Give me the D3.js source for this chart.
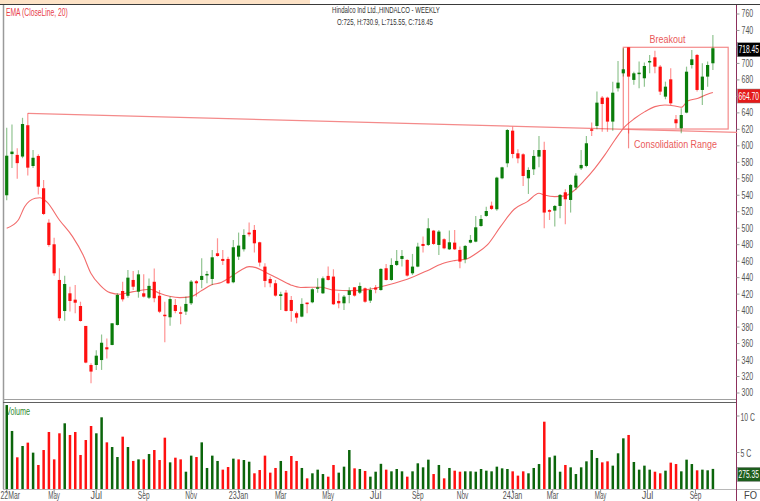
<!DOCTYPE html>
<html>
<head>
<meta charset="utf-8">
<script src="https://cdn.jsdelivr.net/npm/d3@7/dist/d3.min.js"></script>
<style>
body{margin:0;background:#fff;overflow:hidden;}
svg{display:block;font-family:"Liberation Sans",Arial,sans-serif;}
</style>
</head>
<body>
<svg id="plot"></svg>
<script>
const width = 760;
const height = 501;

// weekly candles
const opens = [540,590,589,587,625,575.5,587.7,548.5,506.7,480.5,437.2,399.5,421,413.3,405.6,381.4,334,334,340,355.5,
  358.3,382.6,423.8,418,437.2,423,421,415.7,435,418,395,391.9,406.8,398,398.8,408.9,435.6,437.2,442.9,438.4,
  469.6,462.7,462.7,434.4,465.5,474.4,494.7,497.9,482.9,453.4,438.4,433.2,417.8,421.8,412.9,396.8,392.7,409.7,410.1,427.1,
  421,442.1,441.3,411.7,408.9,419,428.3,421.8,427.1,412.1,428,425,451.4,437.2,455.4,462.7,461.5,445.3,453.4,480.9,
  479.7,497.1,479.7,486.6,474.4,482.5,473.6,462.3,482.5,483.7,502.7,514.9,527.4,523,560.6,578.8,618.4,590.9,589.7,560.6,
  571.5,586.9,595,522,521.4,527,543.6,534.3,549.3,572.7,575.6,620.1,624.1,658.5,658.5,629.4,669.8,688,719.6,680,
  687.2,682,702,707.4,696.1,659.7,680.7,632.2,621.3,640.3,698.1,710.3,667.8,684,700.2];
const highs = [622,626,597,634,639.5,595,589.7,558.5,510.8,488.5,451.4,442.4,429,431,410.8,381.4,336,352,371,366,
  384.6,421,435,449.3,448,449,444,439,451,425,410.8,417,414,404.9,417,437.2,437,463.5,448.1,473.6,
  487.8,473.6,465.5,485.8,494.7,498.7,506.8,504,483.7,457.4,441.3,437.2,423,425,417.8,398.8,415,409.7,427.1,439.2,
  441.3,453.4,450.2,421,419,428.3,428.3,434,428,428.5,431,451.5,456.6,463.5,473.6,473.6,462.3,468.8,482.5,489.8,
  512,497.9,497.9,487.8,497.1,497.9,477.7,479.7,491.8,514.9,516.1,526.2,532.3,562.6,574.7,620.4,623.3,595.8,590.9,573.9,
  595,612,605,523,528.2,541.6,547.3,553.7,566.7,595,612,628.2,665.8,660.5,659.7,677.9,703,718.4,719.6,690,
  702.2,701,710.3,715.5,698.1,677.9,694.1,637.4,645.5,696.1,716.3,711.5,700.2,702.2,734.5];
const lows = [534,573,560,585,564,573,541,516,477.6,442.4,387.4,387.8,399,396.7,386.6,336.1,311.8,328,328,342,
  358,382,411,415.7,425,415.7,416,414,410,397,361.5,381.7,396.7,383.4,394.7,406.9,417,427.1,433.2,431.2,
  465.5,455.4,432.4,433.2,461.5,471.6,489.8,470.4,453.4,428.3,428.3,417,400.8,398.8,386.6,384.6,391.9,396.8,408.9,421.8,
  420.2,436.4,406.9,402.8,400.8,408.9,417,420.2,409.6,409.3,421,424,436.4,436.4,454.2,453.4,441.3,443.3,452.6,470.4,
  478.5,479.7,467.5,474.4,473.6,473.6,451.4,457.4,481.7,482.9,501.9,514,522.2,521.3,559.4,573.9,584.8,578.8,551.3,541.6,
  564.6,573.9,499.9,510,502,512,504.8,519,546.4,570.7,574,612,620,617,617,618.4,665.8,684,615,674,
  669.8,671.8,688,688,661.7,656.5,649.6,621.3,615.2,639.5,694,665.8,649.6,671.8,692];
const closes = [588,593,579,626.5,573.5,585.5,550.4,517.3,479.6,445.3,390.7,432.3,411.7,409.6,387.4,336.9,326,345.3,361,353,
  384.6,419,413.7,440,429,444,417,430,415,398.7,394,414,399.5,396.8,408.1,435.2,433.2,442.1,444.5,464.7,
  466.3,460.3,433.2,476.9,478.9,491.8,492.6,481.7,458.3,436,433.2,418.2,419.8,399.6,399.6,391.5,408.1,408.5,425.9,428.3,
  439.2,437.2,407.7,408.9,417,424.3,418.2,429.9,410.8,425,425.5,450.6,437.2,455.4,460.3,466.3,442.5,453.4,477.7,478.5,
  499.9,480.9,495.9,475.6,482.9,474.4,459.5,478.5,485.8,501.1,511.2,520.9,523.4,561.4,573.9,619.2,590.1,584.8,563.4,570.7,
  587.7,594.9,519,520,527,540.4,535.1,552.5,563.8,576.8,603.1,618.4,652.4,650.8,629.4,664.5,676.7,692.9,684,688,
  688.8,696.9,703,696.1,665.8,671.8,651.6,627.4,637.4,690,705,667.8,684,698.1,718.45];

// weekly volume in crore shares
const volumes = [11.5,7.95,4.34,5.89,6.35,4.98,3.29,5.34,7.81,4.06,7.63,9.0,7.4,7.81,4.66,6.71,8.63,7.63,9.82,6.39,
  5.75,4.38,7.17,5.75,3.84,4.06,4.06,4.79,5.34,3.97,7.03,3.65,4.29,4.06,2.37,4.57,4.38,6.39,2.88,4.57,
  3.84,2.65,3.01,4.16,4.06,3.97,3.74,2.15,2.6,4.57,2.24,2.88,3.84,2.47,4.52,3.84,2.88,1.46,2.15,2.65,
  2.05,1.69,3.29,2.24,3.06,5.34,2.83,2.74,2.47,1.69,2.37,3.45,2.65,2.42,2.74,2.42,1.69,2.42,3.52,2.97,
  4.02,2.05,3.29,1.46,2.88,2.51,2.37,2.42,2.42,2.37,2.74,2.51,2.42,3.06,2.83,2.74,2.42,1.83,2.42,2.15,
  2.88,3.42,9.22,4.34,4.57,2.37,3.29,2.97,2.05,2.97,3.79,5.34,4.25,3.65,3.79,3.2,4.89,6.94,7.4,3.7,
  2.65,3.2,2.65,2.37,2.15,2.51,3.61,3.42,2.42,4.02,3.42,2.56,2.65,2.56,2.7535];
// u = up bar, d = down bar in the volume panel, ten weeks per chunk
const volDir = ['uudududddd','duddddduud','uududududd','dudduuduuu','udduduuddd',
  'dduddduduu','udduuududu','uuduuuduuu','udududduuu','uuuuuudddu',
  'uuduuuduuu','uuudduuudu','uuuddudduu','uduuu'].join('').split('');
// EMA(20) as drawn, sampled along the curve: [week index, value]
const emaPoints = [[0,500],[2.2,510],[3.4,526],[5.4,536.3],[6.3,537],[7.6,532],[10,510],[12.5,489.8],[14.5,467.5],[16,445],
  [17.7,431],[19.6,421.8],[21.5,419.8],[24,423],[27.2,425.9],[29,421],[32.8,415.7],[35,417],[37,424.3],[38.8,431.2],
  [40.7,434],[42.6,441.3],[44.5,449.4],[46,453.4],[47.3,452.2],[48.9,447.3],[51.4,439.2],[53.9,431.2],[55.8,428],[57.7,428.3],
  [59.6,428.3],[62.1,425],[65.3,424.3],[68.8,425.8],[72.3,431.1],[76,438],[79.8,448.5],[82.6,457],[85,460.7],[87.4,463],
  [89,469],[91.2,479.7],[93.7,501.9],[96.3,523],[98.8,532.3],[101,542.4],[102,540.4],[104,538.4],[105.9,539.2],[107.8,546.4],
  [109.7,558.6],[111.6,572.7],[113.5,589],[115.4,607.1],[117.3,623.3],[119.2,633.4],[121.1,641.5],[123,647.6],[124.9,649.6],[126.8,648.4],
  [128,646.8],[129.3,654.8],[131.2,657.7],[133.1,663],[134,664.7]];

const priceTicks = d3.range(300, 761, 20);
const volTicks = [5, 10];
const monthTicks = [[0,'22Mar'],[9,'May'],[17,'Jul'],[26,'Sep'],[35,'Nov'],[44,'23Jan'],[52,'Mar'],[61,'May'],
  [70,'Jul'],[78,'Sep'],[86.5,'Nov'],[96,'24Jan'],[103.6,'Mar'],[112.7,'May'],[121.6,'Jul'],[130.7,'Sep']];

const trendLine = [[4,639.5],[138.6,616.4]];
const breakoutBox = {left:117, right:136.9, top:719.6, bottom:620.4};
const pointerLine = [[118,620.4],[118,597]];
const lastEma = 664.70;

const colUp = '#0a7d0a', colDown = '#ff1010';
const charW = 3.9; // the chart's small font is narrow

// squeeze texts horizontally (about their x) to the narrow width the original font gives
function squeeze(sel, widthOf){
  sel.each(function(d, i){
    let target = typeof widthOf === 'function' ? widthOf.call(this, d, i) : widthOf;
    let nat = this.getComputedTextLength();
    if (!nat) return;
    let s = target / nat;
    let x = +this.getAttribute('x');
    this.setAttribute('transform', `translate(${x},0) scale(${s},1) translate(${-x},0)`);
  });
  return sel;
}
function narrow(sel, perChar){
  return squeeze(sel, function(){ return this.textContent.length * perChar; });
}

class Chart{
  constructor(id){
    this.svg = d3.select('svg' + id)
    .attr('width', width)
    .attr('height', height);

    this.sx = d3.scaleLinear().domain([0, 134]).range([6.7, 6.7 + 134*5.27]);
    this.sy = d3.scaleLinear().domain([300, 760]).range([393, 14]);
    this.sv = d3.scaleLinear().domain([0, 10]).range([489, 416]);
    this.axisX = 736.5;
  }

  initFrame(){
    let svg = this.svg;
    svg.append('rect').attr('x',0).attr('y',0).attr('width',310).attr('height',4).attr('fill','#fde2c6');
    svg.append('line').attr('x1',0).attr('x2',width).attr('y1',4.5).attr('y2',4.5).attr('stroke','#3a3a3a');
    svg.append('line').attr('x1',3.5).attr('x2',3.5).attr('y1',5).attr('y2',489).attr('stroke','#9a9a9a').attr('stroke-width',1.5);
    svg.append('line').attr('x1',3).attr('x2',this.axisX).attr('y1',399.5).attr('y2',399.5).attr('stroke','#a0a0a0');
    svg.append('line').attr('x1',3).attr('x2',this.axisX).attr('y1',402.5).attr('y2',402.5).attr('stroke','#606060');
    svg.append('line').attr('x1',3).attr('x2',width).attr('y1',489.5).attr('y2',489.5).attr('stroke','#b8b8b8');
    svg.append('line').attr('x1',this.axisX).attr('x2',this.axisX).attr('y1',5).attr('y2',height).attr('stroke','#8c2f5c');

    squeeze(svg.append('text').attr('x',6).attr('y',16).attr('font-size',10).attr('fill','#e8404a')
    .text('EMA (CloseLine, 20)'), 62);
    squeeze(svg.append('text').attr('x',386).attr('y',13).attr('text-anchor','middle').attr('font-size',9).attr('fill','#333')
    .text('Hindalco Ind Ltd.,HINDALCO - WEEKLY'), 108);
    squeeze(svg.append('text').attr('x',385).attr('y',25).attr('text-anchor','middle').attr('font-size',9).attr('fill','#333')
    .text('O:725, H:730.9, L:715.55, C:718.45'), 96);
    squeeze(svg.append('text').attr('x',6).attr('y',415).attr('font-size',10).attr('fill','#2f8a2f')
    .text('Volume'), 24);
    squeeze(svg.append('text').attr('x',744).attr('y',499).attr('font-size',10).attr('fill','#444')
    .text('FO'), 13);
    return this;
  }

  initAxes(){
    let sy = this.sy, sv = this.sv, sx = this.sx, ax = this.axisX;
    // labels under the last-value boxes are hidden, as in the original
    let covered = [sy(closes[closes.length-1]), sy(lastEma)];
    let shown = priceTicks.filter(d=>covered.every(c=>Math.abs(sy(d)-c) > 8));
    let g = this.svg.append('g');
    g.selectAll('.ptick').data(priceTicks).enter().append('line')
    .attr('x1',ax).attr('x2',ax+3).attr('y1',d=>sy(d)).attr('y2',d=>sy(d)).attr('stroke','#999');
    narrow(g.selectAll('.plab').data(shown).enter().append('text')
    .attr('x',ax+5).attr('y',d=>sy(d)+3.5).attr('font-size',10).attr('fill','#555').text(d=>d), charW);

    g.selectAll('.vtick').data(volTicks).enter().append('line')
    .attr('x1',ax).attr('x2',ax+3).attr('y1',d=>sv(d)).attr('y2',d=>sv(d)).attr('stroke','#999');
    narrow(g.selectAll('.vlab').data(volTicks).enter().append('text')
    .attr('x',ax+4).attr('y',d=>sv(d)+5).attr('font-size',10).attr('fill','#555').text(d=>d+' C'), 3.6);

    g.selectAll('.mtick').data(monthTicks).enter().append('line')
    .attr('x1',d=>sx(d[0])).attr('x2',d=>sx(d[0])).attr('y1',489).attr('y2',493).attr('stroke','#999');
    narrow(g.selectAll('.mlab').data(monthTicks).enter().append('text')
    .attr('x',d=>Math.max(sx(d[0]), d[1].length*charW/2 + 0.5))
    .attr('y',499.5).attr('text-anchor','middle').attr('font-size',10).attr('fill','#555').text(d=>d[1]), charW);
    return this;
  }

  initCandles(){
    let sx = this.sx, sy = this.sy;
    let data = opens.map((o,i)=>({i, o, h:highs[i], l:lows[i], c:closes[i]}));
    let g = this.svg.append('g');
    let c = g.selectAll('.candle').data(data).enter().append('g').attr('class','candle');
    c.append('line')
    .attr('x1',d=>sx(d.i)).attr('x2',d=>sx(d.i))
    .attr('y1',d=>sy(d.h)).attr('y2',d=>sy(d.l))
    .attr('stroke',d=>d.c>=d.o ? colUp : colDown)
    .attr('stroke-opacity',0.45).attr('stroke-width',1.2);
    c.append('rect')
    .attr('x',d=>sx(d.i)-1.6).attr('width',3.2)
    .attr('y',d=>sy(Math.max(d.o,d.c)))
    .attr('height',d=>Math.max(1.5, Math.abs(sy(d.o)-sy(d.c))))
    .attr('fill',d=>d.c>=d.o ? colUp : colDown);
    return this;
  }

  initEma(){
    let line = d3.line().x(d=>this.sx(d[0])).y(d=>this.sy(d[1])).curve(d3.curveMonotoneX);
    this.svg.append('path').datum(emaPoints).attr('d',line)
    .attr('fill','none').attr('stroke','#f26b6b').attr('stroke-width',1.1);
    return this;
  }

  initVolume(){
    let sx = this.sx, sv = this.sv;
    this.svg.append('g').selectAll('.vol').data(volumes).enter().append('rect')
    .attr('x',(d,i)=>sx(i)-1.2).attr('width',2.5)
    .attr('y',d=>sv(d)).attr('height',d=>sv(0)-sv(d))
    .attr('fill',(d,i)=>volDir[i]==='d' ? colDown : '#0b650b');
    return this;
  }

  initAnnotations(){
    let sx = this.sx, sy = this.sy;
    let pink = '#f48a8a';
    let line = d3.line().x(d=>sx(d[0])).y(d=>sy(d[1]));
    this.svg.append('path').datum(trendLine).attr('d',line).attr('fill','none').attr('stroke',pink).attr('stroke-width',1.2);
    this.svg.append('path').datum(pointerLine).attr('d',line).attr('fill','none').attr('stroke',pink).attr('stroke-width',1.2);
    this.svg.append('rect')
    .attr('x',sx(breakoutBox.left)).attr('width',sx(breakoutBox.right)-sx(breakoutBox.left))
    .attr('y',sy(breakoutBox.top)).attr('height',sy(breakoutBox.bottom)-sy(breakoutBox.top))
    .attr('fill','none').attr('stroke',pink).attr('stroke-width',1.2);
    squeeze(this.svg.append('text').attr('x',667.5).attr('y',43).attr('text-anchor','middle').attr('font-size',11.5).attr('fill','#ea5a5a')
    .text('Breakout'), 36);
    squeeze(this.svg.append('text').attr('x',675.5).attr('y',148.5).attr('text-anchor','middle').attr('font-size',11.5).attr('fill','#ea5a5a')
    .text('Consolidation Range'), 83);
    return this;
  }

  initLastValues(){
    let ax = this.axisX, sy = this.sy, sv = this.sv;
    let boxes = [
      {y: sy(closes[closes.length-1]) + 1.5, fill:'#000', text: closes[closes.length-1].toFixed(2)},
      {y: sy(lastEma) + 3.5, fill:'#e41a1a', text: lastEma.toFixed(2)},
      {y: sv(volumes[volumes.length-1]) + 5.5, fill:'#1d5e1d', text: (volumes[volumes.length-1]*100).toFixed(2)}
    ];
    let g = this.svg.append('g').selectAll('.lastbox').data(boxes).enter().append('g');
    g.append('rect').attr('x',ax+1).attr('y',d=>d.y-7).attr('width',width-ax).attr('height',14)
    .attr('fill',d=>d.fill).attr('stroke','#888').attr('stroke-width',0.5);
    narrow(g.append('text').attr('x',ax+2).attr('y',d=>d.y+3.5).attr('font-size',10).attr('fill','#fff').text(d=>d.text), 3.4);
    return this;
  }
}

function main(){
  let chart = new Chart('#plot')
  .initFrame()
  .initAxes()
  .initVolume()
  .initAnnotations()
  .initEma()
  .initCandles()
  .initLastValues();
  window.chart = chart;
}

document.addEventListener('DOMContentLoaded', main);
</script>
</body>
</html>
